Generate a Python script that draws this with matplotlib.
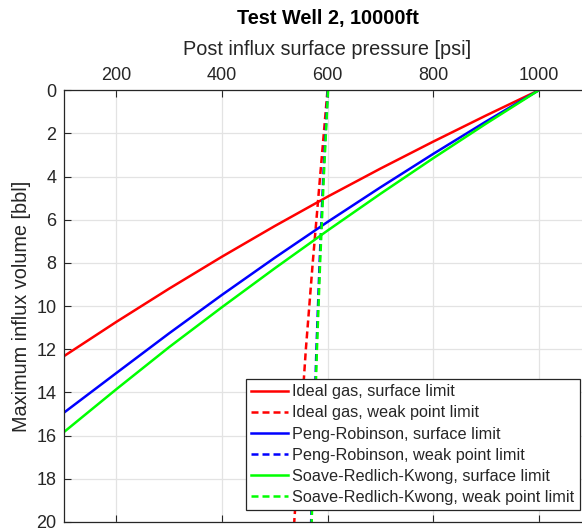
import matplotlib
matplotlib.use("Agg")
import matplotlib.pyplot as plt
import numpy as np

plt.rcParams['font.family'] = ['Liberation Sans', 'DejaVu Sans']

# Surface limit curves: pressure [psi] vs max influx volume [bbl]
p_surf = [1000, 900, 800, 700, 600, 500, 400, 300, 200, 100]
v_ideal_surf = [0, 1.17, 2.38, 3.63, 4.93, 6.29, 7.71, 9.19, 10.73, 12.33]
v_pr_surf = [0, 1.45, 2.95, 4.50, 6.10, 7.76, 9.48, 11.26, 13.10, 14.95]
v_srk_surf = [0, 1.55, 3.15, 4.80, 6.50, 8.25, 10.05, 11.90, 13.85, 15.85]

# Weak point limit curves: volume [bbl] vs pressure [psi]
v_weak = [0, 4, 8, 12, 16, 20]
p_ideal_weak = [600, 586, 572, 559, 548, 537]
p_pr_weak = [600.5, 592, 585, 579, 574, 569]
p_srk_weak = [601, 593, 586, 580, 575, 570]

labels = ["Ideal gas, surface limit", "Ideal gas, weak point limit",
          "Peng-Robinson, surface limit", "Peng-Robinson, weak point limit",
          "Soave-Redlich-Kwong, surface limit", "Soave-Redlich-Kwong, weak point limit"]
colors = ["#ff0000", "#0000ff", "#00ff00"]

x_ticks = [200, 400, 600, 800, 1000]
y_ticks = list(range(0, 21, 2))

W, H = 582, 531
fig = plt.figure(figsize=(W / 100, H / 100), dpi=100)
ax = fig.add_axes([63.5 / W, 9 / H, 528 / W, 431.7 / H])

lw = 1.8
dash = (0, (2.8, 1.6))
surf = [v_ideal_surf, v_pr_surf, v_srk_surf]
weak = [p_ideal_weak, p_pr_weak, p_srk_weak]
for i in range(3):
    ax.plot(p_surf, surf[i], color=colors[i], lw=lw, label=labels[2 * i])
    ax.plot(weak[i], v_weak, color=colors[i], lw=lw, ls=dash, label=labels[2 * i + 1])

ax.set_xlim(100, 1100)
ax.set_ylim(20, 0)
ax.xaxis.tick_top()
ax.xaxis.set_label_position('top')
ax.set_xticks(x_ticks)
ax.set_yticks(y_ticks)
ax.tick_params(axis='both', direction='in', length=5, width=0.8, colors='#262626',
               labelsize=13, top=True, bottom=True, left=True, right=True)
ax.tick_params(axis='x', pad=4.5)
ax.tick_params(axis='y', pad=5)
ax.grid(True, color='#e3e3e3', lw=0.9)
ax.set_axisbelow(True)
for s in ax.spines.values():
    s.set_color('#262626')
    s.set_linewidth(0.9)
ax.set_xlabel("Post influx surface pressure [psi]", fontsize=14.3, color='#262626', labelpad=8.5)
ax.set_ylabel("Maximum influx volume [bbl]", fontsize=14.3, color='#262626', labelpad=4)
ax.set_title("Test Well 2, 10000ft", fontsize=14.3, fontweight='bold', pad=11.5)

leg = ax.legend(loc='lower right', bbox_to_anchor=((579.5 - 63.5) / 528, (531 - 510 - 9) / 431.7),
                fontsize=11.7, frameon=True, fancybox=False, framealpha=1,
                edgecolor='#262626', handlelength=2.3, handletextpad=0.25,
                labelspacing=0.38, borderpad=0.3, borderaxespad=0, handleheight=0.7)
leg.get_frame().set_linewidth(0.9)
for t in leg.get_texts():
    t.set_color('#262626')

fig.savefig("out.png", dpi=100)
